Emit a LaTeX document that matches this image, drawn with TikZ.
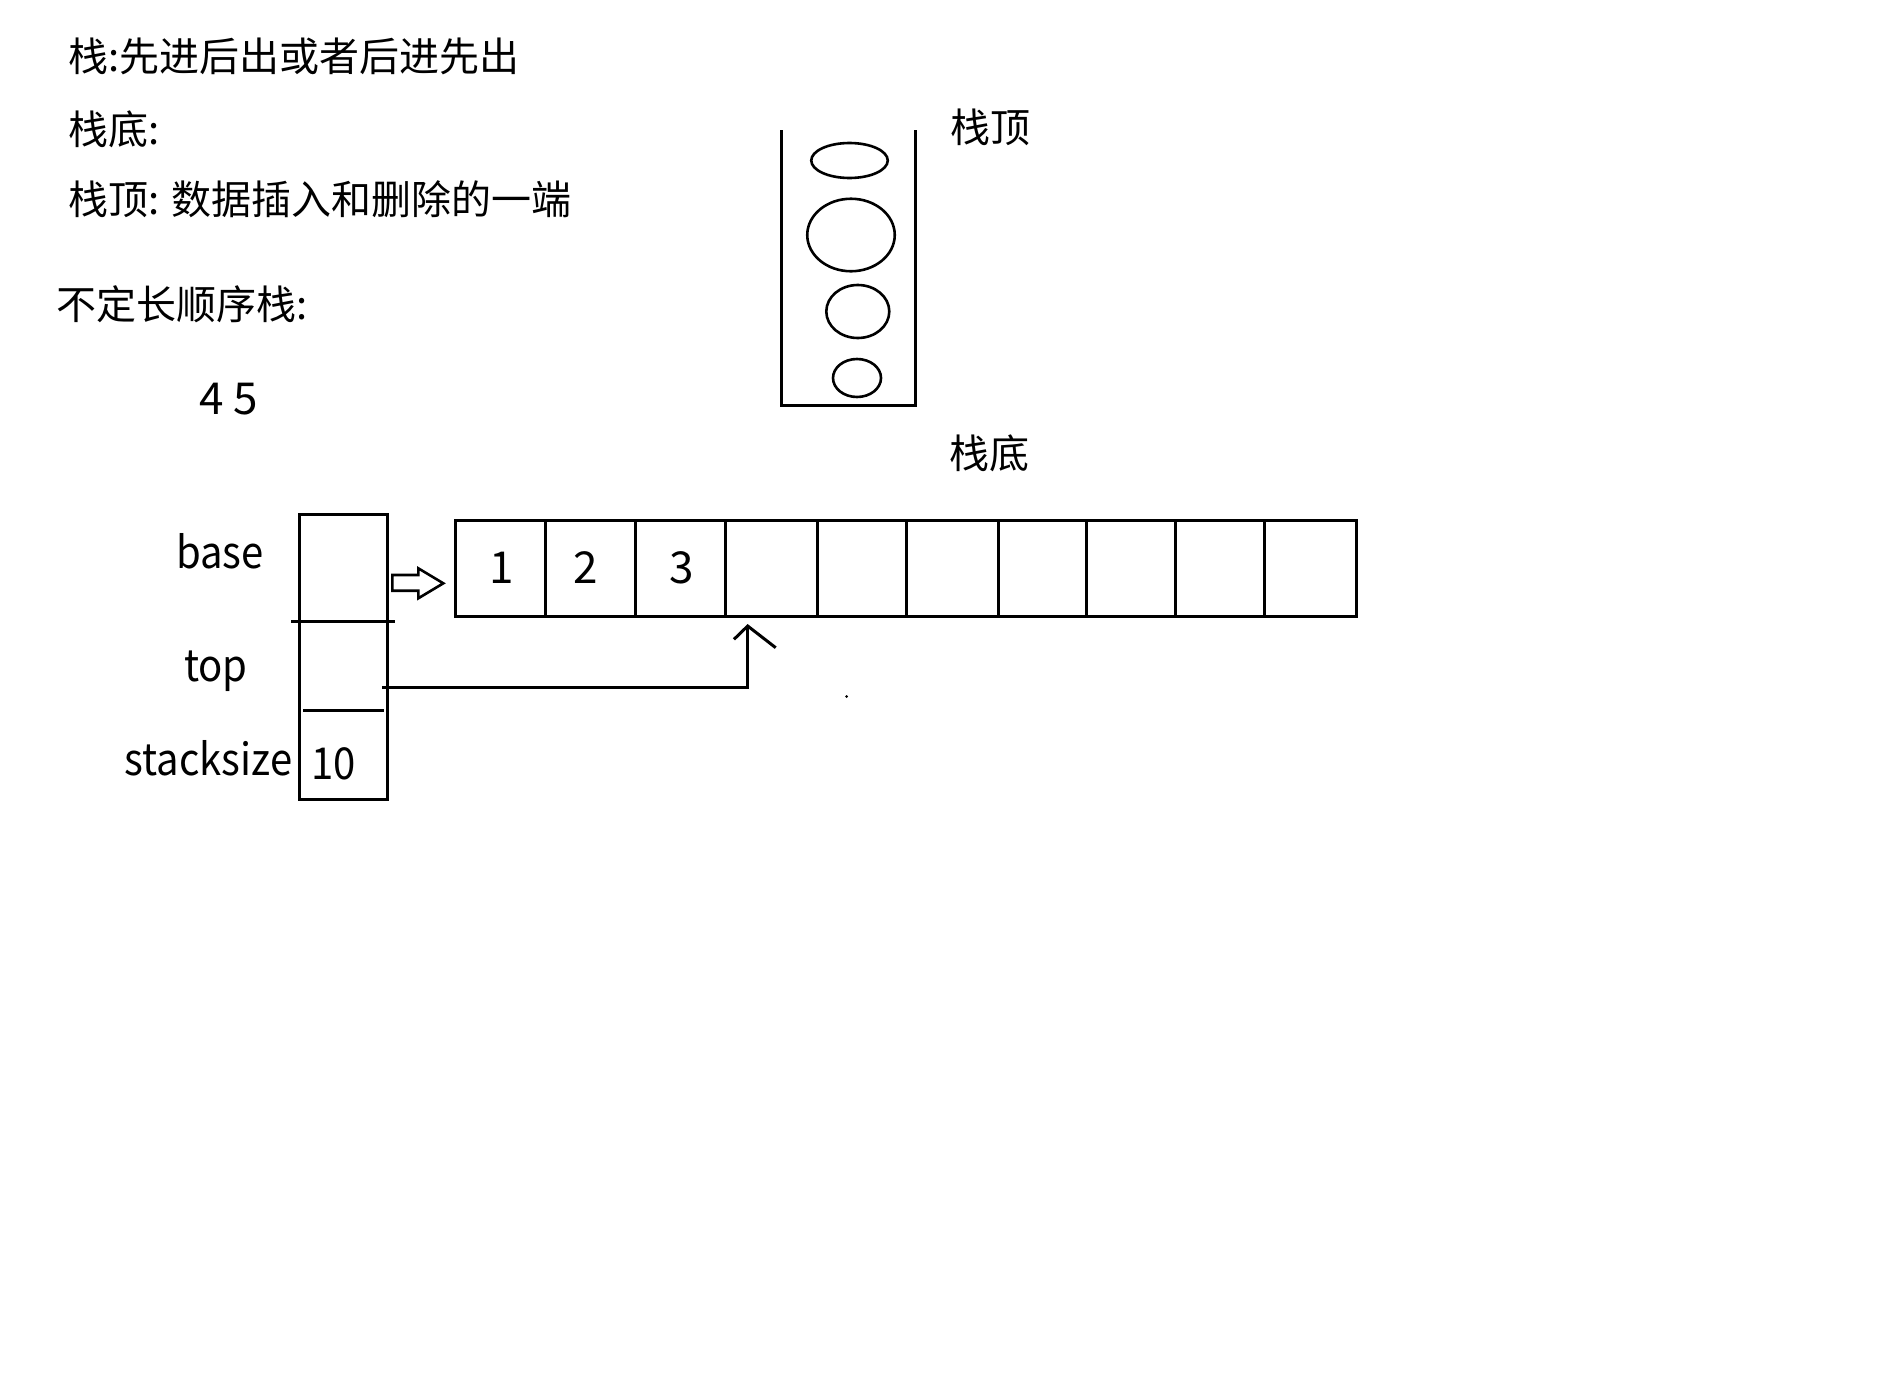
\documentclass[tikz,border=0pt]{standalone}
\usepackage{fontspec}
\setmainfont{Noto Sans CJK SC}
\newfontfamily\latf{Noto Sans CJK SC}[FakeStretch=0.91]
\usetikzlibrary{shapes.geometric}
\tikzset{
  cjktext/.style={inner sep=0pt, anchor=west, font=\fontsize{40}{48}\selectfont},
  lattext/.style={inner sep=0pt, anchor=base west, font=\latf\fontsize{44}{52}\selectfont},
  celltext/.style={inner sep=0pt, font=\fontsize{44}{52}\selectfont},
  thick line/.style={line width=3pt},
  ball/.style={ellipse, draw, line width=2.6pt, inner sep=0pt},
  cellbox/.style={draw, line width=3pt, inner sep=0pt, minimum height=96pt},
}
\begin{document}
\begin{tikzpicture}[x=1pt,y=-1pt]
\useasboundingbox (0,0) rectangle (1896,1400);
\fill[white] (0,0) rectangle (1896,1400);

% text at left
\node[cjktext] (t1) at (68,56) {栈:先进后出或者后进先出};
\node[cjktext] (t2) at (68,129) {栈底:};
\node[cjktext] (t3) at (68,199) {栈顶: 数据插入和删除的一端};
\node[cjktext] (t4) at (56,304) {不定长顺序栈:};
\node[inner sep=0pt, anchor=west, font=\fontsize{44}{52}\selectfont] (t5) at (199,399) {4 5};

% stack container
\coordinate (cl) at (781,130);
\coordinate (cr) at (915.7,130);
\draw[thick line] (cl) -- (781,405.7) -- (915.7,405.7) -- (cr);
\node[ball, minimum width=76.5pt, minimum height=35pt] (e1) at (849.5,160.5) {};
\node[ball, minimum width=87.5pt, minimum height=72.5pt] (e2) at (851,235) {};
\node[ball, minimum width=63pt, minimum height=53pt] (e3) at (857.8,311.5) {};
\node[ball, minimum width=48pt, minimum height=38pt] (e4) at (857,378) {};
\node[cjktext] (stop) at (950,127.5) {栈顶};
\node[cjktext] (sbot) at (949,453) {栈底};

% struct box
\node[draw, line width=3pt, inner sep=0pt, minimum width=88.3pt, minimum height=285.3pt] (sbox) at (343.15,656.65) {};
\draw[thick line] (291,621.3) -- (394.7,621.3);
\draw[thick line] (303,710.3) -- (383.7,710.3);
\node[lattext] (lbase) at (176,568.3) {base};
\node[lattext] (ltop) at (184,681.7) {top};
\node[lattext] (lsize) at (124.5,775) {stacksize};
\node[lattext] (lten) at (311,779.3) {10};

% array cells
\node[cellbox, minimum width=90.5pt] (c1) at (500.25,568.3) {};
\node[cellbox, minimum width=90pt] (c2) at (590.5,568.3) {};
\node[cellbox, minimum width=90.2pt] (c3) at (680.6,568.3) {};
\node[cellbox, minimum width=91.7pt] (c4) at (771.55,568.3) {};
\node[cellbox, minimum width=88.8pt] (c5) at (861.8,568.3) {};
\node[cellbox, minimum width=92.1pt] (c6) at (952.25,568.3) {};
\node[cellbox, minimum width=88.4pt] (c7) at (1042.5,568.3) {};
\node[cellbox, minimum width=88.7pt] (c8) at (1131.05,568.3) {};
\node[cellbox, minimum width=89.3pt] (c9) at (1220.05,568.3) {};
\node[cellbox, minimum width=91.3pt] (c10) at (1310.35,568.3) {};
\node[celltext] (n1) at (502,568) {1};
\node[celltext] (n2) at (586,568) {2};
\node[celltext] (n3) at (681.7,568) {3};

% hollow arrow base -> array
\draw[line width=2.6pt, line join=miter] (392.3,575) -- (418.3,575) -- (418.3,568.3) -- (443.3,583.3) -- (418.3,598.3) -- (418.3,590.7) -- (392.3,590.7) -- cycle;

% top pointer
\coordinate (tstart) at (382.3,687.3);
\coordinate (tip) at (747.7,626);
\draw[thick line] (tstart) -| (tip);
\draw[thick line] (734,639.3) -- (tip) -- (775.7,647.7);

% stray dot
\fill (846.5,696.5) circle (1.5pt);
\end{tikzpicture}
\end{document}
